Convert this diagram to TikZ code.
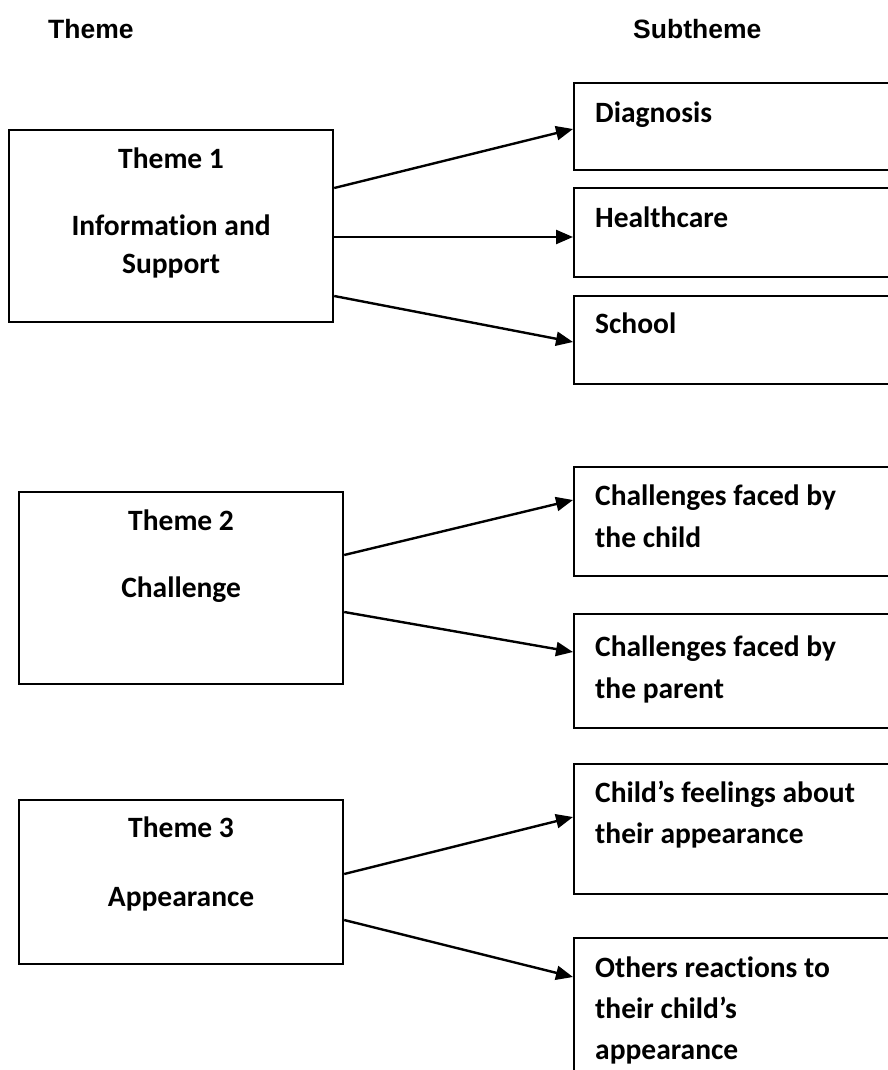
\documentclass[tikz,border=0pt]{standalone}
\usepackage{fontspec}
\usetikzlibrary{arrows.meta,calc}
\newfontfamily\boxfont{Carlito}[Ligatures=NoCommon]
\newfontfamily\headfont{Liberation Sans}
\tikzset{
  box/.style={draw=black, line width=2.2pt, fill=white, inner sep=0pt, anchor=north west},
  boxtxt/.style={inner sep=0pt, font=\boxfont\bfseries\fontsize{29.5pt}{35pt}\selectfont},
  headtxt/.style={inner sep=0pt, anchor=base west, font=\headfont\bfseries\fontsize{26.5pt}{30pt}\selectfont},
  link/.style={line width=2.4pt, -{Triangle[length=17pt,width=14pt]}}
}
\begin{document}
\begin{tikzpicture}[x=1pt,y=-1pt]
\useasboundingbox (0,0) rectangle (888,1070);
\clip (0,0) rectangle (888,1070);

% column headings
\node[headtxt] (hTheme) at (48,39) {Theme};
\node[headtxt] (hSub) at (633,39) {Subtheme};

% theme boxes
\node[box, minimum width=324pt, minimum height=192pt] (t1) at (8,129) {};
\node[box, minimum width=324pt, minimum height=192pt] (t2) at (18,491) {};
\node[box, minimum width=324pt, minimum height=164pt] (t3) at (18,799) {};

% subtheme boxes (running off the right edge)
\node[box, minimum width=340pt, minimum height=87pt]  (s1) at (573,82) {};
\node[box, minimum width=340pt, minimum height=89pt]  (s2) at (573,187) {};
\node[box, minimum width=340pt, minimum height=88pt]  (s3) at (573,295) {};
\node[box, minimum width=340pt, minimum height=109pt] (s4) at (573,466) {};
\node[box, minimum width=340pt, minimum height=114pt] (s5) at (573,613) {};
\node[box, minimum width=340pt, minimum height=130pt] (s6) at (573,763) {};
\node[box, minimum width=340pt, minimum height=160pt] (s7) at (573,937) {};

% theme labels
\node[boxtxt, anchor=base] (t1a) at ($(t1.north)+(0,39)$) {Theme 1};
\node[boxtxt, anchor=base] (t1b) at ($(t1.north)+(0,106)$) {Information and};
\node[boxtxt, anchor=base] (t1c) at ($(t1.north)+(0,144)$) {Support};
\node[boxtxt, anchor=base] (t2a) at ($(t2.north)+(0,39)$) {Theme 2};
\node[boxtxt, anchor=base] (t2b) at ($(t2.north)+(0,106)$) {Challenge};
\node[boxtxt, anchor=base] (t3a) at ($(t3.north)+(0,38)$) {Theme 3};
\node[boxtxt, anchor=base] (t3b) at ($(t3.north)+(0,107)$) {Appearance};

% subtheme labels
\node[boxtxt, anchor=base west] (s1a) at ($(s1.north west)+(22,40)$) {Diagnosis};
\node[boxtxt, anchor=base west] (s2a) at ($(s2.north west)+(22,40)$) {Healthcare};
\node[boxtxt, anchor=base west] (s3a) at ($(s3.north west)+(22,38)$) {School};
\node[boxtxt, anchor=base west] (s4a) at ($(s4.north west)+(22,39)$) {Challenges faced by};
\node[boxtxt, anchor=base west] (s4b) at ($(s4.north west)+(22,81)$) {the child};
\node[boxtxt, anchor=base west] (s5a) at ($(s5.north west)+(22,43)$) {Challenges faced by};
\node[boxtxt, anchor=base west] (s5b) at ($(s5.north west)+(22,85)$) {the parent};
\node[boxtxt, anchor=base west] (s6a) at ($(s6.north west)+(22,39)$) {Child’s feelings about};
\node[boxtxt, anchor=base west] (s6b) at ($(s6.north west)+(22,80)$) {their appearance};
\node[boxtxt, anchor=base west] (s7a) at ($(s7.north west)+(22,40)$) {Others reactions to};
\node[boxtxt, anchor=base west] (s7b) at ($(s7.north west)+(22,81)$) {their child’s};
\node[boxtxt, anchor=base west] (s7c) at ($(s7.north west)+(22,122)$) {appearance};

% connectors from each theme to its subthemes
\draw[link] ($(t1.north east)+(0,59)$)  -- ($(s1.north west)+(0,47)$);
\draw[link] ($(t1.north east)+(0,108)$) -- ($(s2.north west)+(0,50)$);
\draw[link] ($(t1.north east)+(0,167)$) -- ($(s3.north west)+(0,47)$);
\draw[link] ($(t2.north east)+(0,64)$)  -- ($(s4.north west)+(0,34)$);
\draw[link] ($(t2.north east)+(0,121)$) -- ($(s5.north west)+(0,39)$);
\draw[link] ($(t3.north east)+(0,75)$)  -- ($(s6.north west)+(0,54)$);
\draw[link] ($(t3.north east)+(0,121)$) -- ($(s7.north west)+(0,40)$);
\end{tikzpicture}
\end{document}
